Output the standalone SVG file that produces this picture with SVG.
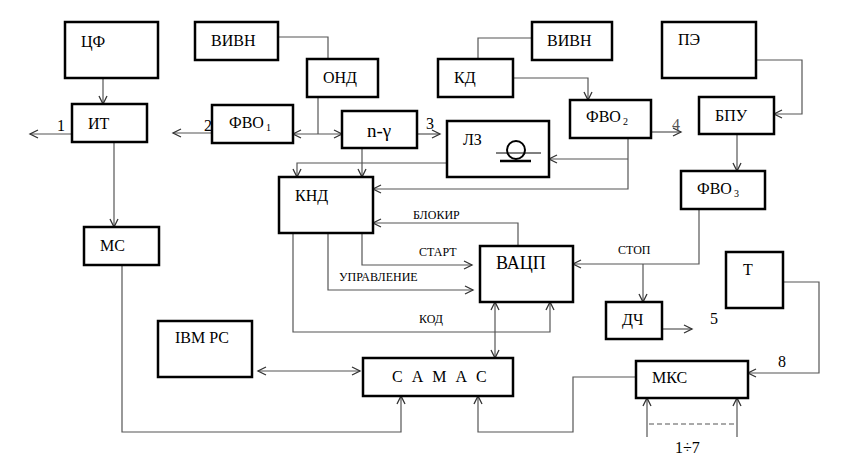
<svg xmlns="http://www.w3.org/2000/svg" width="848" height="467" viewBox="0 0 848 467">
<defs>
<marker id="a" markerUnits="userSpaceOnUse" markerWidth="12" markerHeight="12" refX="10" refY="6" orient="auto-start-reverse">
<path d="M2,2 L10,6 L2,10" fill="none" stroke="#333" stroke-width="1.3"/>
</marker>
</defs>
<rect width="848" height="467" fill="#fff"/>
<g id="connectors">
<g fill="none" stroke="#555" stroke-width="1.2">
<path d="M103,78 V104" marker-end="url(#a)"/>
<path d="M72,134 H30" marker-end="url(#a)"/>
<path d="M212,133 H173" marker-end="url(#a)"/>
<path d="M278,37 H328 V59"/>
<path d="M318,97 V134"/>
<path d="M293,134 H342" marker-start="url(#a)" marker-end="url(#a)"/>
<path d="M417,134 H440" marker-end="url(#a)"/>
<path d="M362,148 V177" marker-end="url(#a)"/>
<path d="M447,163 H297 V177" marker-end="url(#a)"/>
<path d="M532,38 H478 V59"/>
<path d="M513,78 H588 V100" marker-end="url(#a)"/>
<path d="M651,132 H681" marker-end="url(#a)"/>
<path d="M628,138 V189 H373" marker-end="url(#a)"/>
<path d="M628,159 H549" marker-end="url(#a)"/>
<path d="M756,60 H802 V114 H774" marker-end="url(#a)"/>
<path d="M737,134 V171" marker-end="url(#a)"/>
<path d="M699,209 V264 H573" marker-end="url(#a)"/>
<path d="M643,264 V302" marker-end="url(#a)"/>
<path d="M662,329 H692" marker-end="url(#a)"/>
<path d="M783,282 H819 V373 H748" marker-end="url(#a)"/>
<path d="M636,377 H573 V432 H478 V396" marker-end="url(#a)"/>
<path d="M647,437 V398" marker-end="url(#a)"/>
<path d="M737,437 V398" marker-end="url(#a)"/>
<path d="M649,424 H735" stroke-dasharray="5,3"/>
<path d="M114,142 V227" marker-end="url(#a)"/>
<path d="M122,265 V432 H401 V396" marker-end="url(#a)"/>
<path d="M258,371 H360" marker-start="url(#a)" marker-end="url(#a)"/>
<path d="M293,233 V332 H550 V302" marker-end="url(#a)"/>
<path d="M328,233 V290 H473" marker-end="url(#a)"/>
<path d="M362,233 V265 H472" marker-end="url(#a)"/>
<path d="M518,246 V223 H373" marker-end="url(#a)"/>
<path d="M495,302 V358" marker-start="url(#a)" marker-end="url(#a)"/>
</g>
<text font-family="Liberation Serif" font-size="16" x="57" y="131">1</text>
<text font-family="Liberation Serif" font-size="16" x="204" y="131">2</text>
<text font-family="Liberation Serif" font-size="16" x="426" y="129">3</text>
<text font-family="Liberation Serif" font-size="16" x="672" y="130" fill="#555">4</text>
<text font-family="Liberation Serif" font-size="16" x="710" y="324">5</text>
<text font-family="Liberation Serif" font-size="16" x="778" y="367">8</text>
<text font-family="Liberation Serif" font-size="16" x="675" y="453">1÷7</text>
<text font-family="Liberation Serif" font-size="12" x="413" y="219">БЛОКИР</text>
<text font-family="Liberation Serif" font-size="12" x="419" y="256">СТАРТ</text>
<text font-family="Liberation Serif" font-size="12" x="339" y="281">УПРАВЛЕНИЕ</text>
<text font-family="Liberation Serif" font-size="12" x="419" y="323">КОД</text>
<text font-family="Liberation Serif" font-size="12" x="618" y="254">СТОП</text>
</g>
<g id="CF"><rect fill="#fff" stroke="#000" stroke-width="2.5" x="65" y="22" width="93" height="56"/><text font-family="Liberation Serif" font-size="16" x="81" y="47">ЦФ</text></g>
<g id="IT"><rect fill="#fff" stroke="#000" stroke-width="2.5" x="72" y="104" width="75" height="38"/><text font-family="Liberation Serif" font-size="16" x="88" y="129">ИТ</text></g>
<g id="VIVN1"><rect fill="#fff" stroke="#000" stroke-width="2.5" x="195" y="22" width="83" height="38"/><text font-family="Liberation Serif" font-size="16" x="211" y="46">ВИВН</text></g>
<g id="FVO1"><rect fill="#fff" stroke="#000" stroke-width="2.5" x="212" y="105" width="81" height="38"/><text font-family="Liberation Serif" font-size="16" x="229" y="128">ФВО</text><text font-family="Liberation Serif" font-size="10" x="266" y="131">1</text></g>
<g id="OND"><rect fill="#fff" stroke="#000" stroke-width="2.5" x="307" y="59" width="71" height="38"/><text font-family="Liberation Serif" font-size="16" x="323" y="83">ОНД</text></g>
<g id="NG"><rect fill="#fff" stroke="#000" stroke-width="2.5" x="342" y="111" width="75" height="37"/><text font-family="Liberation Serif" font-size="19" x="367" y="137">n-γ</text></g>
<g id="LZ"><rect fill="#fff" stroke="#000" stroke-width="2.5" x="447" y="121" width="102" height="56"/><text font-family="Liberation Serif" font-size="16" x="463" y="145">ЛЗ</text>
<circle cx="516" cy="150" r="9" fill="none" stroke="#000" stroke-width="2"/>
<path d="M496,153 H541" stroke="#000" stroke-width="1"/>
<path d="M500,161 H531" stroke="#000" stroke-width="2.5"/></g>
<g id="VIVN2"><rect fill="#fff" stroke="#000" stroke-width="2.5" x="532" y="22" width="80" height="38"/><text font-family="Liberation Serif" font-size="16" x="547" y="46">ВИВН</text></g>
<g id="KD"><rect fill="#fff" stroke="#000" stroke-width="2.5" x="438" y="59" width="75" height="38"/><text font-family="Liberation Serif" font-size="16" x="454" y="83">КД</text></g>
<g id="FVO2"><rect fill="#fff" stroke="#000" stroke-width="2.5" x="570" y="100" width="81" height="38"/><text font-family="Liberation Serif" font-size="16" x="586" y="122">ФВО</text><text font-family="Liberation Serif" font-size="10" x="623" y="125">2</text></g>
<g id="PE"><rect fill="#fff" stroke="#000" stroke-width="2.5" x="662" y="22" width="94" height="56"/><text font-family="Liberation Serif" font-size="16" x="678" y="45">ПЭ</text></g>
<g id="BPU"><rect fill="#fff" stroke="#000" stroke-width="2.5" x="699" y="97" width="75" height="37"/><text font-family="Liberation Serif" font-size="16" x="715" y="121">БПУ</text></g>
<g id="FVO3"><rect fill="#fff" stroke="#000" stroke-width="2.5" x="681" y="171" width="84" height="38"/><text font-family="Liberation Serif" font-size="16" x="697" y="194">ФВО</text><text font-family="Liberation Serif" font-size="10" x="734" y="197">3</text></g>
<g id="KND"><rect fill="#fff" stroke="#000" stroke-width="2.5" x="279" y="177" width="94" height="56"/><text font-family="Liberation Serif" font-size="16" x="295" y="201">КНД</text></g>
<g id="VACP"><rect fill="#fff" stroke="#000" stroke-width="2.5" x="480" y="246" width="93" height="56"/><text font-family="Liberation Serif" font-size="18" x="496" y="269">ВАЦП</text></g>
<g id="MS"><rect fill="#fff" stroke="#000" stroke-width="2.5" x="84" y="227" width="75" height="38"/><text font-family="Liberation Serif" font-size="16" x="100" y="251">МС</text></g>
<g id="IBM"><rect fill="#fff" stroke="#000" stroke-width="2.5" x="158" y="321" width="94" height="56"/><text font-family="Liberation Serif" font-size="16" x="175" y="343">IBM PC</text></g>
<g id="CAMAC"><rect fill="#fff" stroke="#000" stroke-width="2.5" x="363" y="358" width="150" height="38"/><text font-family="Liberation Serif" font-size="16" x="392" y="382" letter-spacing="2.5">С А М А С</text></g>
<g id="DCH"><rect fill="#fff" stroke="#000" stroke-width="2.5" x="606" y="302" width="56" height="37"/><text font-family="Liberation Serif" font-size="16" x="622" y="325">ДЧ</text></g>
<g id="T"><rect fill="#fff" stroke="#000" stroke-width="2.5" x="726" y="252" width="57" height="56"/><text font-family="Liberation Serif" font-size="16" x="743" y="275">Т</text></g>
<g id="MKS"><rect fill="#fff" stroke="#000" stroke-width="2.5" x="636" y="361" width="112" height="37"/><text font-family="Liberation Serif" font-size="16" x="652" y="383">МКС</text></g>
</svg>
